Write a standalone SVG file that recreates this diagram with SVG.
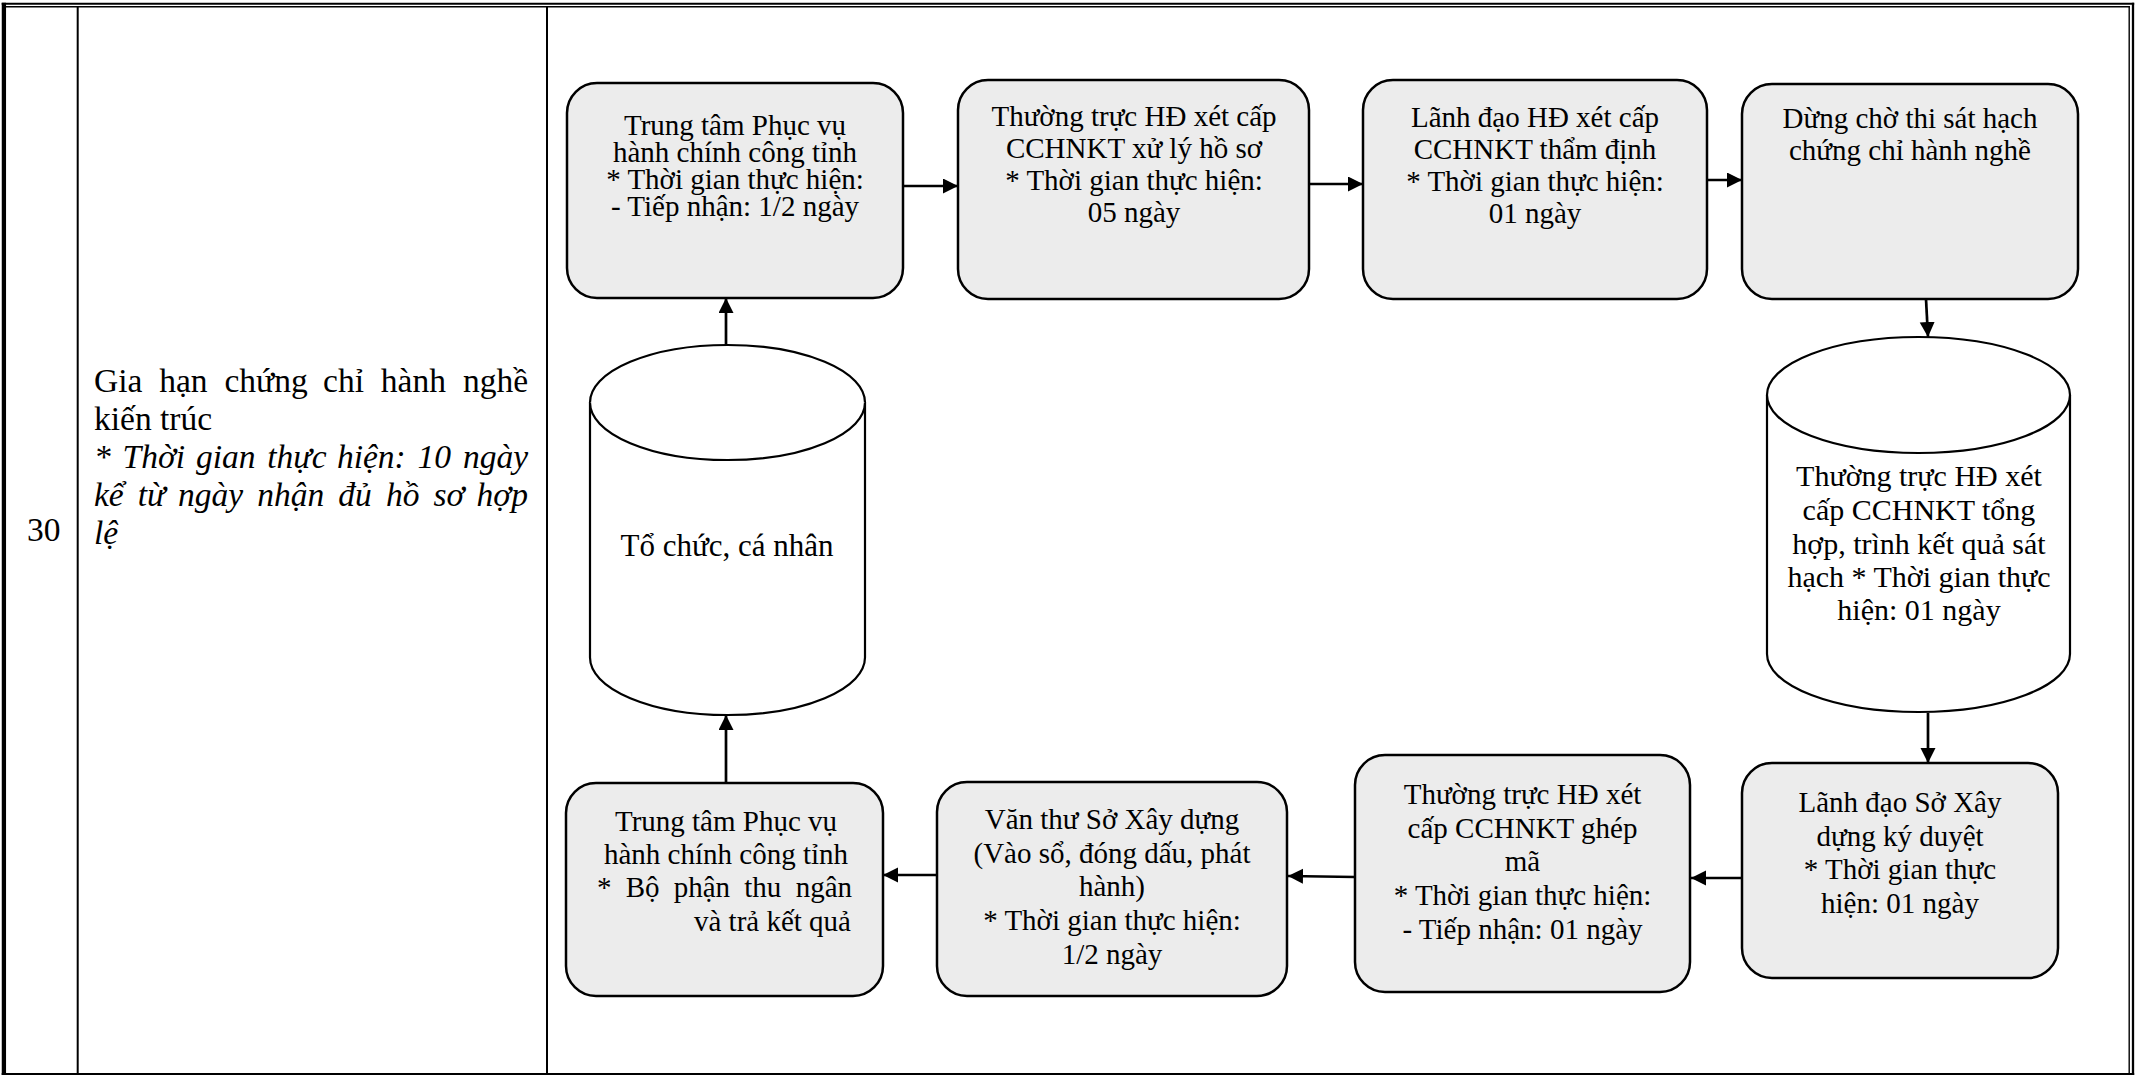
<svg xmlns="http://www.w3.org/2000/svg" width="2140" height="1075" viewBox="0 0 2140 1075">
<defs>
<style>
.box{fill:#ececec;stroke:#000;stroke-width:2.5}
.cyl{fill:#fff;stroke:#000;stroke-width:2.2}
.t{font-family:"Liberation Serif","Times New Roman",serif;font-size:29px;fill:#000}
.c{text-anchor:middle}
.e{text-anchor:end}
.big{font-family:"Liberation Serif","Times New Roman",serif;font-size:33.5px;fill:#000}
.i{font-style:italic}
.conn{stroke:#000;stroke-width:2.7;fill:none;marker-end:url(#ah)}
.grid{stroke:#000;fill:none}
</style>
<marker id="ah" markerUnits="userSpaceOnUse" markerWidth="16" markerHeight="16" refX="15" refY="7.5" orient="auto">
<path d="M0,0 L15,7.5 L0,15 Z" fill="#000"/>
</marker>
</defs>
<rect width="2140" height="1075" fill="#fff"/>
<g id="table">
<line class="grid" x1="1.7" y1="3.7" x2="2134.2" y2="3.7" stroke-width="2"/>
<line class="grid" x1="6" y1="6.8" x2="2129.9" y2="6.8" stroke-width="1.4"/>
<line class="grid" x1="3.9" y1="2.7" x2="3.9" y2="1075" stroke-width="4.3"/>
<line class="grid" x1="2133" y1="2.7" x2="2133" y2="1075" stroke-width="2.3"/>
<line class="grid" x1="2129.2" y1="6.1" x2="2129.2" y2="1075" stroke-width="1.4"/>
<line class="grid" x1="1.7" y1="1074" x2="2134.2" y2="1074" stroke-width="2"/>
<line class="grid" x1="77.7" y1="7" x2="77.7" y2="1074" stroke-width="2"/>
<line class="grid" x1="547" y1="7" x2="547" y2="1074" stroke-width="2"/>
<text class="big" x="27" y="541">30</text>
<text class="big" y="392"><tspan x="94">Gia</tspan><tspan x="159.2">hạn</tspan><tspan x="224.4">chứng</tspan><tspan x="323.1">chỉ</tspan><tspan x="380.8">hành</tspan><tspan x="528" text-anchor="end">nghề</tspan></text>
<text class="big" x="94" y="430">kiến trúc</text>
<text class="big i" y="468"><tspan x="94">*</tspan><tspan x="122.6">Thời</tspan><tspan x="195.9">gian</tspan><tspan x="267.3">thực</tspan><tspan x="336.9">hiện:</tspan><tspan x="417.5">10</tspan><tspan x="528" text-anchor="end">ngày</tspan></text>
<text class="big i" y="506"><tspan x="94">kể</tspan><tspan x="137.8">từ</tspan><tspan x="178">ngày</tspan><tspan x="257.2">nhận</tspan><tspan x="338.3">đủ</tspan><tspan x="385.9">hồ</tspan><tspan x="433.5">sơ</tspan><tspan x="528" text-anchor="end">hợp</tspan></text>
<text class="big i" x="94" y="544">lệ</text>
</g>
<g id="connectors">
<line class="conn" x1="903" y1="186" x2="958" y2="186"/>
<line class="conn" x1="1309" y1="184" x2="1363" y2="184"/>
<line class="conn" x1="1707" y1="180" x2="1742" y2="180"/>
<line class="conn" x1="1926" y1="299" x2="1928" y2="337"/>
<line class="conn" x1="1928" y1="713" x2="1928" y2="763"/>
<line class="conn" x1="1742" y1="878" x2="1691" y2="878"/>
<line class="conn" x1="1355" y1="877" x2="1288" y2="876"/>
<line class="conn" x1="937" y1="875" x2="883" y2="875"/>
<line class="conn" x1="726" y1="783" x2="726" y2="715"/>
<line class="conn" x1="726" y1="345" x2="726" y2="298"/>
</g>
<g id="n1">
<rect class="box" x="567" y="83" width="336" height="215" rx="30"/>
<text class="t c"><tspan x="735" y="135">Trung tâm Phục vụ</tspan><tspan x="735" y="162">hành chính công tỉnh</tspan><tspan x="735" y="189">* Thời gian thực hiện:</tspan><tspan x="735" y="216">- Tiếp nhận: 1/2 ngày</tspan></text>
</g>
<g id="n2">
<rect class="box" x="958" y="80" width="351" height="219" rx="30"/>
<text class="t c"><tspan x="1134" y="126">Thường trực HĐ xét cấp</tspan><tspan x="1134" y="158">CCHNKT xử lý hồ sơ</tspan><tspan x="1134" y="190">* Thời gian thực hiện:</tspan><tspan x="1134" y="222">05 ngày</tspan></text>
</g>
<g id="n3">
<rect class="box" x="1363" y="80" width="344" height="219" rx="30"/>
<text class="t c"><tspan x="1535" y="127">Lãnh đạo HĐ xét cấp</tspan><tspan x="1535" y="159">CCHNKT thẩm định</tspan><tspan x="1535" y="191">* Thời gian thực hiện:</tspan><tspan x="1535" y="223">01 ngày</tspan></text>
</g>
<g id="n4">
<rect class="box" x="1742" y="84" width="336" height="215" rx="30"/>
<text class="t c"><tspan x="1910" y="128">Dừng chờ thi sát hạch</tspan><tspan x="1910" y="160">chứng chỉ hành nghề</tspan></text>
</g>
<g id="n5">
<path class="cyl" d="M1767,395 A151.5,58 0 0 1 2070,395 L2070,654 A151.5,58 0 0 1 1767,654 Z"/>
<path class="cyl" fill="none" d="M1767,395 A151.5,58 0 0 0 2070,395"/>
<text class="t c" style="font-size:30px"><tspan x="1919" y="486">Thường trực HĐ xét</tspan><tspan x="1919" y="520">cấp CCHNKT tổng</tspan><tspan x="1919" y="554">hợp, trình kết quả sát</tspan><tspan x="1919" y="587">hạch * Thời gian thực</tspan><tspan x="1919" y="620">hiện: 01 ngày</tspan></text>
</g>
<g id="n6">
<rect class="box" x="1742" y="763" width="316" height="215" rx="30"/>
<text class="t c"><tspan x="1900" y="812">Lãnh đạo Sở Xây</tspan><tspan x="1900" y="846">dựng ký duyệt</tspan><tspan x="1900" y="879">* Thời gian thực</tspan><tspan x="1900" y="913">hiện: 01 ngày</tspan></text>
</g>
<g id="n7">
<rect class="box" x="1355" y="755" width="335" height="237" rx="30"/>
<text class="t c"><tspan x="1522.5" y="804">Thường trực HĐ xét</tspan><tspan x="1522.5" y="838">cấp CCHNKT ghép</tspan><tspan x="1522.5" y="871">mã</tspan><tspan x="1522.5" y="905">* Thời gian thực hiện:</tspan><tspan x="1522.5" y="939">- Tiếp nhận: 01 ngày</tspan></text>
</g>
<g id="n8">
<rect class="box" x="937" y="782" width="350" height="214" rx="30"/>
<text class="t c"><tspan x="1112" y="829">Văn thư Sở Xây dựng</tspan><tspan x="1112" y="863">(Vào sổ, đóng dấu, phát</tspan><tspan x="1112" y="896">hành)</tspan><tspan x="1112" y="930">* Thời gian thực hiện:</tspan><tspan x="1112" y="964">1/2 ngày</tspan></text>
</g>
<g id="n9">
<rect class="box" x="566" y="783" width="317" height="213" rx="30"/>
<text class="t c"><tspan x="726" y="831">Trung tâm Phục vụ</tspan><tspan x="726" y="864">hành chính công tỉnh</tspan></text>
<text class="t" y="897"><tspan x="597">*</tspan><tspan x="625.7">Bộ</tspan><tspan x="673.7">phận</tspan><tspan x="744.3">thu</tspan><tspan x="852" text-anchor="end">ngân</tspan></text>
<text class="t e" x="851" y="931">và trả kết quả</text>
</g>
<g id="n10">
<path class="cyl" d="M590,402.5 A137.5,57.5 0 0 1 865,402.5 L865,657.5 A137.5,57.5 0 0 1 590,657.5 Z"/>
<path class="cyl" fill="none" d="M590,402.5 A137.5,57.5 0 0 0 865,402.5"/>
<text class="t c" style="font-size:31px" x="727" y="556">Tổ chức, cá nhân</text>
</g>
</svg>
